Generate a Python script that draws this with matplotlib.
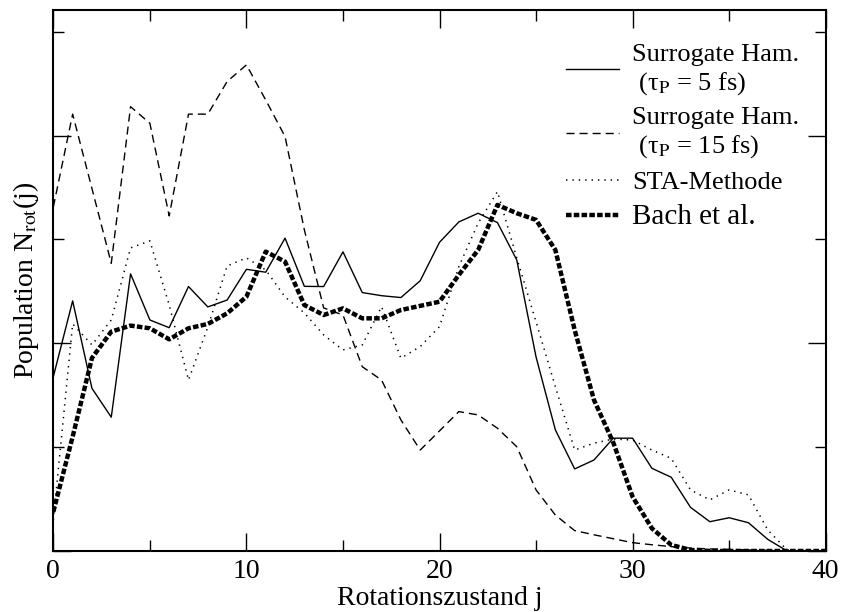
import matplotlib
matplotlib.use("Agg")
import matplotlib.pyplot as plt
from matplotlib.ticker import MultipleLocator, NullFormatter

plt.rcParams["font.family"] = ["Liberation Serif", "DejaVu Serif"]
plt.rcParams["mathtext.fontset"] = "stix"
plt.rcParams["lines.scale_dashes"] = False

# rotational quantum number j
j = list(range(0, 41))

# population, arbitrary units (major y tick = 1)
surrogate_5fs = [0.839, 1.204, 0.783, 0.644, 1.334, 1.112, 1.075, 1.273, 1.175, 1.208,
                 1.356, 1.342, 1.506, 1.274, 1.273, 1.440, 1.244, 1.229, 1.220, 1.301,
                 1.486, 1.584, 1.626, 1.581, 1.401, 0.934, 0.583, 0.395, 0.438, 0.543,
                 0.543, 0.398, 0.355, 0.210, 0.141, 0.160, 0.136, 0.056, 0.0, 0.0, 0.0]
surrogate_15fs = [1.656, 2.103, 1.745, 1.385, 2.139, 2.059, 1.613, 2.103, 2.103, 2.260,
                  2.340, 2.171, 1.995, 1.546, 1.170, 1.136, 0.887, 0.823, 0.631, 0.486,
                  0.578, 0.671, 0.655, 0.591, 0.502, 0.294, 0.173, 0.098, 0.078, 0.059,
                  0.040, 0.030, 0.021, 0.014, 0.010, 0.008, 0.005, 0.003, 0.001, 0.0, 0.0]
sta_methode = [0.149, 1.093, 0.992, 1.112, 1.459, 1.493, 1.184, 0.823, 1.078, 1.372,
               1.411, 1.353, 1.223, 1.146, 1.040, 0.968, 0.992, 1.176, 0.928, 0.984,
               1.080, 1.369, 1.578, 1.730, 1.411, 1.103, 0.791, 0.486, 0.519, 0.539,
               0.534, 0.486, 0.446, 0.294, 0.246, 0.294, 0.270, 0.101, 0.005, 0.0, 0.0]
bach = [0.189, 0.550, 0.929, 1.056, 1.085, 1.072, 1.019, 1.072, 1.093, 1.144,
        1.224, 1.441, 1.393, 1.184, 1.136, 1.168, 1.120, 1.120, 1.160, 1.180,
        1.200, 1.329, 1.449, 1.666, 1.626, 1.594, 1.449, 1.064, 0.727, 0.522,
        0.261, 0.109, 0.029, 0.005, 0.0, 0.0, 0.0, 0.0, 0.0, 0.0, 0.0]

labels = ["Surrogate Ham.\n (τ$_\\mathrm{P}$ = 5 fs)",
          "Surrogate Ham.\n (τ$_\\mathrm{P}$ = 15 fs)",
          "STA-Methode",
          "Bach et al."]

fig = plt.figure(figsize=(8.44, 6.12), dpi=100)
ax = fig.add_axes([0.0632, 0.0997, 0.9151, 0.8835])

ax.plot(j, surrogate_5fs, color="black", lw=1.0, label=labels[0])
ax.plot(j, surrogate_15fs, color="black", lw=1.0, dashes=(5.8, 3.6), label=labels[1])
ax.plot(j, sta_methode, color="black", lw=1.1, dashes=(1.0, 3.6), label=labels[2])
ax.plot(j, bach, color="black", lw=3.2, dashes=(4.0, 1.6), solid_capstyle="butt",
        dash_capstyle="butt", label=labels[3])

ax.set_xlim(0, 40)
ax.set_ylim(0, 2.603)
ax.xaxis.set_major_locator(MultipleLocator(10))
ax.xaxis.set_minor_locator(MultipleLocator(5))
ax.yaxis.set_major_locator(MultipleLocator(1))
ax.yaxis.set_minor_locator(MultipleLocator(0.5))
ax.yaxis.set_major_formatter(NullFormatter())
ax.tick_params(which="both", direction="in", top=True, right=True, width=1.0)
ax.tick_params(which="major", length=13, labelsize=20, pad=6)
ax.tick_params(which="minor", length=8)
for s in ax.spines.values():
    s.set_linewidth(1.5)

ax.set_xlabel("Rotationszustand j", fontsize=20, labelpad=1)
ax.set_ylabel("Population N$_\\mathrm{rot}$(j)", fontsize=20, labelpad=3)

leg = ax.legend(loc="upper left", bbox_to_anchor=(0.664, 0.938), frameon=False,
                fontsize=19, handlelength=2.0, handletextpad=0.5,
                labelspacing=0.4, borderpad=0, borderaxespad=0)
leg.get_texts()[3].set_fontsize(21)

fig.savefig("out.png", dpi=100)
